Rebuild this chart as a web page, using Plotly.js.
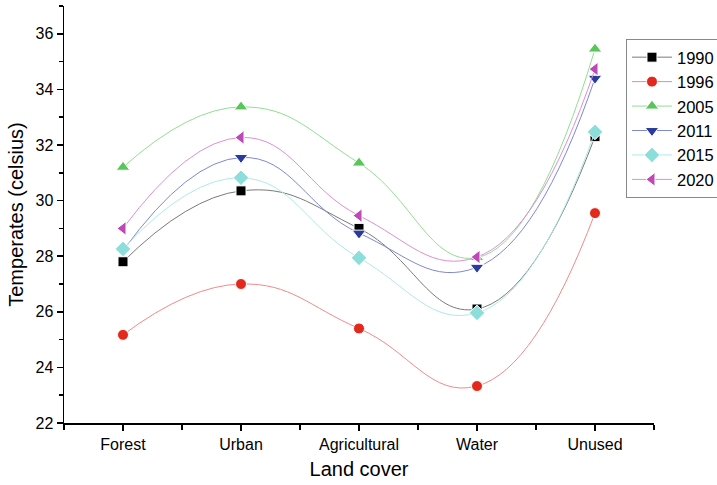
<!DOCTYPE html>
<html>
<head>
<meta charset="utf-8">
<script src="https://cdn.plot.ly/plotly-3.0.1.min.js"></script>
<style>html,body{margin:0;padding:0;background:#fff}#chart{width:717px;height:485px}</style>
</head>
<body>
<div id="chart"></div>
<script>
const categories = ["Forest", "Urban", "Agricultural", "Water", "Unused"];
const years = ["1990", "1996", "2005", "2011", "2015", "2020"];
const v1990 = [27.8, 30.35, 29.0, 26.1, 32.3];
const v1996 = [25.17, 27.0, 25.4, 23.33, 29.55];
const v2005 = [31.2, 33.37, 31.35, 27.95, 35.45];
const v2011 = [28.2, 31.55, 28.83, 27.6, 34.4];
const v2015 = [28.26, 30.82, 27.94, 25.96, 32.47];
const v2020 = [29.0, 32.27, 29.46, 27.97, 34.73];

const seriesValues = [v1990, v1996, v2005, v2011, v2015, v2020];
const markerColors = ["#000000", "#e3291d", "#58c658", "#2a3b9f", "#8cdeda", "#bf48b7"];
const lineColors = ["#7a7a7a", "#f08a8a", "#92de92", "#7f88cf", "#aeeae7", "#dc8fd6"];
const symbols = ["square", "circle", "triangle-up", "triangle-down", "diamond", "triangle-left"];
const sizes = [10, 11, 12, 12, 12, 12];

const xIdx = categories.map((c, i) => i);
const traces = seriesValues.map((vals, k) => ({
  x: xIdx,
  y: vals,
  name: years[k],
  type: "scatter",
  mode: "lines+markers",
  line: {shape: "spline", smoothing: 1.3, color: lineColors[k], width: 1},
  marker: {symbol: symbols[k], color: markerColors[k], size: sizes[k], line: {color: "#ffffff", width: 1}}
}));

const layout = {
  width: 717, height: 485,
  margin: {l: 64, r: 63, t: 6, b: 62, autoexpand: false},
  paper_bgcolor: "#ffffff", plot_bgcolor: "#ffffff",
  font: {family: "Liberation Sans, Arial, sans-serif", color: "#000"},
  showlegend: true,
  legend: {
    x: 0.9525, xanchor: "left", y: 0.921, yanchor: "top",
    bordercolor: "#888888", borderwidth: 1, bgcolor: "#ffffff",
    font: {size: 16.5, color: "#000"},
    tracegroupgap: 0, itemwidth: 40
  },
  xaxis: {
    range: [-0.5, 4.5],
    tickmode: "array", tickvals: xIdx, ticktext: categories,
    showgrid: false, zeroline: false,
    showline: true, linecolor: "#000", linewidth: 1.5,
    ticks: "outside", ticklen: 6, tickwidth: 1.5, tickcolor: "#000",
    tickfont: {size: 16},
    minor: {tickmode: "linear", tick0: -0.5, dtick: 1, ticks: "outside", ticklen: 5, tickwidth: 1.5, tickcolor: "#000", showgrid: false},
    title: {text: "Land cover", font: {size: 20}, standoff: 10}
  },
  yaxis: {
    range: [22, 37],
    tickmode: "linear", tick0: 22, dtick: 2,
    showgrid: false, zeroline: false,
    showline: true, linecolor: "#000", linewidth: 1.5,
    ticks: "outside", ticklen: 6, tickwidth: 1.5, tickcolor: "#000",
    tickfont: {size: 16},
    minor: {tickmode: "linear", tick0: 23, dtick: 2, ticks: "outside", ticklen: 4, tickwidth: 1.5, tickcolor: "#000", showgrid: false},
    title: {text: "Temperates (celsius)", font: {size: 20}, standoff: 6}
  }
};

Plotly.newPlot("chart", traces, layout, {displayModeBar: false, staticPlot: true});
</script>
</body>
</html>
